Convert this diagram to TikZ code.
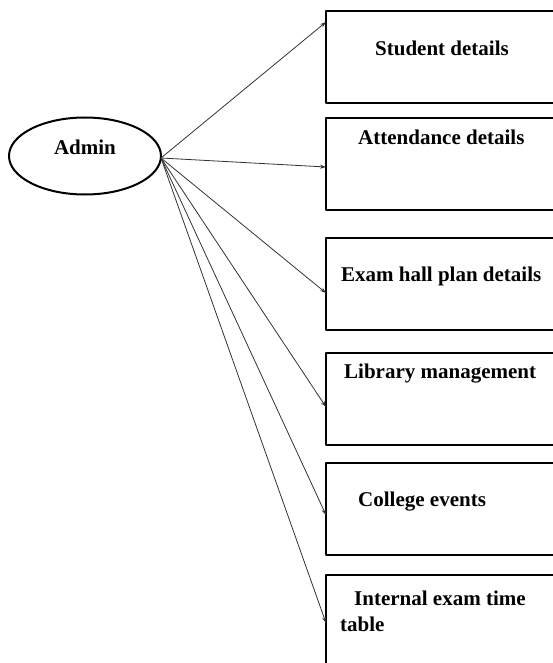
\documentclass[tikz,border=0pt]{standalone}
\usepackage{fontspec}
\setmainfont{Liberation Serif}
\usetikzlibrary{shapes.geometric,arrows.meta}

\begin{document}
\begin{tikzpicture}[line cap=round, line join=round, x=1pt, y=-1pt,
    menubox/.style={draw, line width=2pt, rectangle, anchor=north west, outer sep=0pt, inner sep=0pt,
      minimum width=260pt, minimum height=92pt},
    boxtext/.style={anchor=base west, inner sep=0pt, font=\bfseries\fontsize{21}{26}\selectfont},
    link/.style={draw=black!80, line width=0.8pt, -{Stealth[length=6pt,width=4pt]}}]
                \useasboundingbox (0,0) rectangle (553,663);
                \clip (0,0) rectangle (553,663);
                \node[draw, ellipse, line width=2pt, outer sep=0pt, minimum width=152pt, minimum height=77pt] (admin) at (85,156) {};
                \node[boxtext, anchor=base] (admintext) at (85,154.5) {Admin};
                \coordinate (hub) at (161,158);
                \node[menubox] (student) at (326,11) {};
                \node[menubox] (attendance) at (326,118) {};
                \node[menubox] (examhall) at (326,238) {};
                \node[menubox] (library) at (326,353) {};
                \node[menubox] (events) at (326,463) {};
                \node[menubox] (timetable) at (326,575) {};
                \node[boxtext] (studenttext) at (375,55.5) {Student details};
                \node[boxtext] (attendancetext) at (358,144.5) {Attendance details};
                \node[boxtext] (examhalltext) at (341,281.5) {Exam hall plan details};
                \node[boxtext] (librarytext) at (344,378.5) {Library management};
                \node[boxtext] (eventstext) at (358,506.5) {College events};
                \node[boxtext] (timetabletext) at (354,605.5) {Internal exam time};
                \node[boxtext] (timetabletextb) at (340,631.5) {table};
                \foreach \target/\dy in {student/11, attendance/49, examhall/55, library/54, events/52, timetable/48}
                    \draw[link] (hub) -- ([yshift=-\dy pt]\target.north west);
            \end{tikzpicture}
\end{document}
